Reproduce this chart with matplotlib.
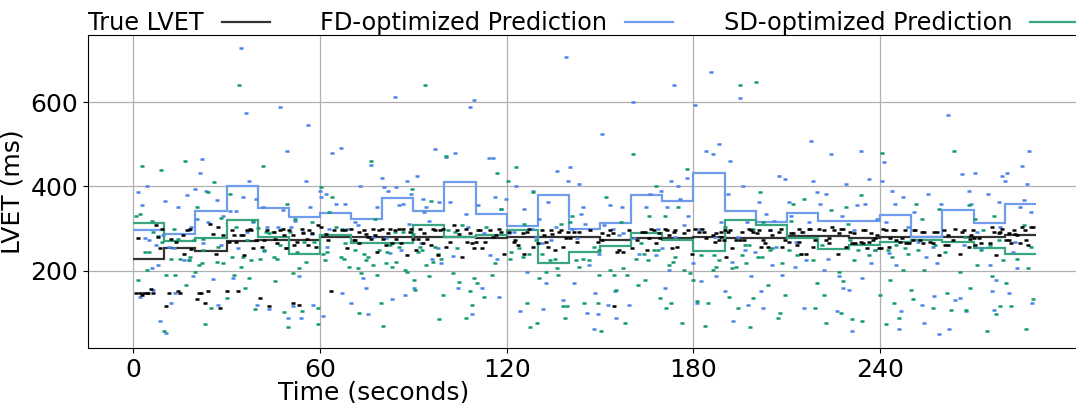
import numpy as np
import matplotlib
matplotlib.use("Agg")
import matplotlib.pyplot as plt
from matplotlib.lines import Line2D

# 10 s blocks, step values of each series
block_edges = np.arange(0, 300, 10)
true_blocks = [228, 255, 247, 270, 272, 272, 280, 281, 281, 279, 279, 278, 281, 279, 279,
               272, 277, 277, 281, 278, 277, 283, 283, 278, 280, 281, 281, 279, 284]
fd_blocks = [296, 288, 341, 402, 348, 327, 338, 322, 372, 342, 410, 334, 307, 379, 299,
             313, 379, 366, 431, 342, 315, 338, 319, 317, 332, 280, 345, 313, 359]
sd_blocks = [314, 271, 277, 320, 281, 241, 286, 265, 265, 308, 281, 285, 296, 219, 245,
             258, 290, 272, 247, 320, 308, 277, 252, 260, 268, 273, 268, 255, 240]

# beat-by-beat points (time s, LVET ms)
true_pts = [
    (7.4, 308), (9.4, 300), (8.1, 281), (12.2, 276), (15.9, 284), (17.2, 296), (18.3, 300), (24.7, 312),
    (25.6, 288), (1.6, 277), (8.7, 253), (18.5, 252), (16.5, 241), (13.7, 269),
    (0.8, 147), (2.2, 147), (2.9, 143), (3.6, 147), (4.4, 147), (4.9, 147), (5.8, 156), (6.5, 147),
    (11.5, 147), (14.4, 151), (14.9, 147), (21.2, 147), (21.8, 147), (24.0, 151),
    (10.7, 116), (20.5, 132), (23.2, 123),
    (30.3, 151), (33.7, 151), (28.0, 112), (40.8, 136), (43.5, 116), (51.3, 124), (53.3, 120), (63.5, 151),
    (27.4, 304), (29.0, 284), (31.7, 296), (32.4, 284), (34.5, 284), (35.2, 284), (36.5, 296), (37.5, 300),
    (38.0, 296), (39.5, 272), (42.1, 272), (43.1, 296), (45.1, 293), (47.2, 296), (48.0, 300), (48.6, 284),
    (50.1, 296), (51.2, 284), (52.6, 269), (54.1, 300), (54.7, 289), (56.6, 296), (57.4, 289), (59.5, 308),
    (60.3, 304), (61.8, 288), (62.7, 272), (64.4, 296), (26.5, 241), (30.9, 269), (33.1, 269), (35.6, 237),
    (38.6, 253), (41.5, 257), (45.7, 276), (46.3, 265), (49.2, 253), (51.8, 261), (55.7, 276), (56.1, 261),
    (58.9, 257),
    (67.2, 296), (68.2, 296), (69.9, 300), (70.8, 273), (71.4, 272), (72.7, 293), (74.2, 296), (74.8, 288),
    (75.6, 281), (76.3, 276), (77.0, 300), (77.8, 284), (79.0, 296), (80.1, 300), (80.4, 276), (81.9, 289),
    (82.5, 300), (83.2, 265), (84.1, 296), (84.6, 276), (85.3, 300), (86.0, 265), (86.8, 300), (88.8, 292),
    (89.4, 300), (90.0, 276), (90.8, 249), (91.5, 276), (92.2, 300), (93.1, 265), (93.6, 289), (94.5, 276),
    (95.6, 261), (96.4, 300), (97.0, 296), (97.8, 237), (98.5, 296), (99.4, 300), (100.4, 257), (101.7, 269),
    (103.2, 308), (104.0, 296), (104.6, 288), (105.5, 233), (68.6, 253), (72.7, 265), (78.4, 245), (81.1, 261),
    (88.1, 237),
    (106.8, 300), (108.1, 289), (110.7, 296), (111.4, 296), (110.1, 268), (112.1, 253), (112.9, 269),
    (114.8, 296), (115.7, 281), (116.7, 284), (117.6, 300), (118.2, 293), (119.0, 241), (120.9, 293),
    (122.3, 269), (122.8, 273), (123.7, 261), (125.1, 289), (125.7, 241), (126.5, 293), (127.1, 300),
    (128.4, 257), (130.1, 265), (131.2, 296), (131.9, 284), (132.6, 269), (133.3, 257), (134.1, 296),
    (134.7, 288), (135.5, 249), (136.7, 293), (137.4, 296), (138.0, 257), (138.9, 277), (139.6, 292),
    (140.2, 277), (141.5, 293), (142.6, 269), (143.2, 292), (107.4, 269), (108.8, 265), (109.4, 253),
    (146.9, 296), (149.2, 269), (150.5, 289), (150.6, 273), (152.6, 285), (153.3, 296), (154.0, 289),
    (154.6, 116), (155.4, 245), (156.2, 249), (157.3, 245), (159.4, 296), (160.2, 253), (161.8, 273),
    (163.5, 293), (164.3, 293), (165.2, 249), (165.8, 277), (166.4, 300), (167.4, 296), (168.1, 265),
    (168.8, 289), (169.3, 277), (170.9, 300), (171.6, 296), (172.3, 285), (173.0, 253), (173.6, 293),
    (174.2, 296), (174.7, 257), (177.0, 289), (178.4, 296), (179.4, 241), (180.6, 300), (181.9, 293),
    (182.6, 300), (183.5, 292), (183.9, 277),
    (186.2, 285), (187.4, 289), (188.9, 293), (190.1, 296), (191.0, 293), (191.7, 296), (195.7, 293),
    (197.8, 300), (198.6, 296), (199.2, 292), (200.5, 289), (201.1, 296), (204.6, 296), (205.2, 285),
    (207.4, 293), (208.0, 300), (211.3, 289), (212.0, 289), (214.0, 300), (214.9, 293), (217.0, 300),
    (217.6, 300), (220.3, 300), (222.0, 296), (223.4, 277), (224.6, 304), (186.8, 269), (188.3, 273),
    (189.0, 281), (189.8, 273), (193.7, 273), (194.9, 273), (196.3, 273), (190.3, 233), (192.3, 253),
    (201.8, 257), (202.4, 273), (203.1, 265), (204.0, 257), (208.6, 257), (209.3, 273), (210.8, 269),
    (213.3, 261), (214.0, 269), (214.7, 241), (216.2, 241), (218.4, 257), (219.2, 273), (222.6, 273),
    (223.7, 265),
    (225.2, 296), (227.3, 300), (228.2, 300), (230.2, 293), (231.6, 289), (234.5, 296), (235.1, 296),
    (237.0, 289), (239.1, 285), (241.0, 300), (241.9, 296), (244.0, 296), (244.7, 296), (247.9, 296),
    (250.7, 296), (251.2, 296), (253.3, 293), (254.1, 293), (257.3, 293), (258.1, 293), (260.4, 296),
    (261.7, 285), (263.9, 300), (226.8, 289), (231.0, 265), (231.9, 265), (233.9, 269), (235.7, 253),
    (236.4, 269), (237.7, 273), (238.3, 277), (239.5, 253), (240.3, 253), (242.8, 257), (245.1, 273),
    (247.0, 277), (248.2, 265), (249.4, 265), (250.5, 273), (252.9, 273), (253.7, 265), (256.0, 269),
    (256.8, 265), (259.0, 237), (260.9, 261), (261.9, 261), (263.4, 273), (226.3, 241), (229.0, 257),
    (234.5, 265), (243.2, 277), (246.2, 269),
    (266.4, 292), (267.0, 296), (269.7, 296), (269.1, 284), (271.7, 277), (275.8, 304), (276.6, 292),
    (278.6, 292), (279.2, 300), (278.0, 289), (281.3, 289), (282.9, 296), (283.4, 288), (284.1, 285),
    (285.7, 304), (286.4, 296), (288.3, 304), (289.1, 304), (268.7, 276), (270.2, 277), (272.5, 265),
    (275.2, 265), (282.1, 265), (285.0, 265), (286.8, 273), (287.6, 261), (265.5, 241), (268.5, 257),
    (270.6, 261), (277.3, 237), (280.5, 273), (281.4, 273),
]

fd_pts = [
    (22.1, 465), (21.4, 433), (4.5, 402), (1.6, 386), (3.0, 355), (10.1, 366), (14.5, 351), (17.2, 379),
    (19.9, 394), (23.5, 390), (24.2, 315), (18.5, 304), (17.8, 296), (20.6, 323), (3.8, 277), (5.2, 273),
    (7.3, 261), (9.5, 284), (11.6, 257), (13.0, 253), (16.5, 226), (17.9, 226), (22.6, 265), (8.0, 213),
    (5.9, 206), (19.1, 187), (25.5, 180), (6.5, 155), (2.2, 139), (13.6, 147), (12.2, 123), (8.7, 81),
    (10.7, 53),
    (34.8, 727), (36.1, 574), (47.3, 589), (56.2, 546), (49.3, 484), (63.8, 480), (37.3, 414), (55.4, 414),
    (35.3, 375), (39.4, 370), (41.7, 351), (48.0, 343), (56.7, 351), (60.0, 390), (61.8, 382), (60.4, 375),
    (65.1, 359), (26.9, 367), (28.9, 331), (31.0, 342), (33.1, 342), (38.6, 315), (43.1, 304), (46.4, 304),
    (52.0, 319), (50.8, 304), (57.5, 287), (54.7, 292), (36.7, 293), (28.2, 260), (33.8, 253), (42.2, 248),
    (62.9, 300), (62.3, 257), (53.3, 187), (32.1, 183), (27.4, 119), (39.9, 119), (43.5, 109), (51.2, 117),
    (57.8, 120), (60.9, 93), (49.7, 89), (53.9, 89),
    (84.0, 613), (66.7, 492), (97.1, 488), (103.3, 480), (100.6, 469), (76.3, 452), (79.8, 421), (91.2, 425),
    (88.1, 414), (72.8, 402), (80.5, 398), (84.6, 398), (81.9, 390), (89.4, 382), (93.0, 370), (68.0, 359),
    (86.6, 359), (85.3, 355), (78.5, 351), (94.2, 351), (93.6, 339), (98.4, 362), (101.9, 362), (94.9, 319),
    (88.7, 312), (71.4, 315), (72.1, 308), (68.8, 300), (81.3, 277), (76.9, 281), (86.0, 249), (82.4, 242),
    (92.4, 265), (97.8, 253), (96.0, 229), (99.0, 218), (102.6, 234), (74.0, 183), (74.7, 159), (69.9, 124),
    (67.1, 147), (83.0, 132), (87.3, 143), (90.2, 159), (75.5, 97), (104.4, 159),
    (139.1, 708), (109.6, 605), (108.3, 589), (114.3, 468), (115.7, 468), (140.3, 445), (136.2, 437),
    (139.6, 414), (143.2, 406), (123.0, 402), (128.5, 390), (116.2, 375), (119.7, 371), (133.4, 363),
    (144.6, 351), (110.8, 355), (118.3, 347), (125.5, 347), (106.8, 335), (143.8, 335), (130.5, 323),
    (135.7, 304), (107.5, 304), (145.1, 312), (140.9, 300), (128.0, 300), (129.3, 281), (112.8, 289),
    (120.7, 289), (122.2, 293), (131.2, 265), (134.1, 273), (142.5, 277), (114.8, 237), (116.8, 229),
    (126.4, 198), (132.6, 171), (141.7, 171), (112.1, 159), (117.5, 139), (138.0, 131), (108.7, 97),
    (124.2, 105), (131.8, 109),
    (173.7, 640), (160.5, 601), (180.6, 593), (150.6, 524), (184.0, 484), (177.8, 421), (172.9, 414),
    (174.9, 402), (169.5, 390), (166.0, 382), (175.7, 371), (153.2, 355), (157.0, 351), (164.6, 351),
    (171.5, 351), (178.4, 331), (177.0, 308), (151.2, 308), (154.0, 300), (157.5, 289), (156.2, 285),
    (168.6, 300), (181.8, 300), (174.2, 281), (170.0, 253), (160.8, 277), (149.8, 241), (162.4, 241),
    (168.0, 238), (146.6, 214), (172.1, 202), (179.8, 218), (182.4, 175), (170.7, 159), (148.5, 147),
    (154.7, 151), (152.5, 119), (159.4, 119), (181.0, 124), (145.8, 100), (149.2, 97), (155.2, 89),
    (147.9, 62),
    (185.6, 671), (195.1, 609), (217.7, 508), (188.3, 500), (186.3, 476), (224.1, 476), (191.7, 460),
    (207.4, 425), (209.4, 417), (195.8, 402), (218.5, 414), (191.0, 382), (219.8, 386), (222.7, 382),
    (201.1, 363), (210.7, 363), (220.5, 359), (203.2, 335), (211.4, 331), (206.0, 319), (189.0, 315),
    (197.1, 315), (217.0, 315), (215.1, 292), (194.4, 281), (204.6, 296), (186.9, 281), (206.5, 257),
    (196.4, 250), (199.9, 245), (213.1, 269), (216.2, 226), (192.3, 222), (205.2, 214), (212.7, 210),
    (221.8, 202), (223.2, 229), (187.4, 187), (198.4, 187), (208.6, 190), (190.1, 151), (201.8, 151),
    (197.6, 119), (202.4, 112), (215.5, 112), (192.8, 81),
    (261.7, 570), (233.8, 484), (241.3, 457), (236.4, 418), (240.5, 414), (229.1, 406), (243.9, 390),
    (247.4, 375), (255.5, 382), (232.4, 355), (235.0, 359), (244.6, 359), (259.5, 359), (250.8, 339),
    (227.6, 331), (241.8, 315), (248.8, 304), (231.7, 297), (239.1, 323), (238.3, 249), (242.7, 242),
    (252.2, 269), (256.8, 257), (254.8, 233), (258.2, 218), (237.0, 218), (245.2, 214), (226.8, 187),
    (228.1, 159), (234.3, 183), (230.1, 155), (257.4, 140), (253.3, 120), (264.1, 131), (246.6, 104),
    (226.1, 104), (254.0, 77), (230.9, 58), (245.9, 62), (258.8, 50), (262.1, 62),
    (287.8, 484), (285.7, 449), (266.3, 429), (270.4, 433), (280.8, 433), (279.2, 425), (280.1, 414),
    (287.1, 406), (268.5, 390), (274.5, 382), (286.3, 367), (278.0, 363), (269.1, 359), (284.8, 351),
    (288.3, 339), (278.6, 304), (271.1, 292), (283.3, 269), (266.9, 261), (272.5, 253), (282.8, 245),
    (275.2, 214), (284.1, 206), (277.3, 179), (265.5, 136), (275.8, 151), (281.3, 147), (288.9, 124),
    (276.6, 108), (267.6, 104),
]

sd_pts = [
    (3.0, 448), (8.8, 440), (16.6, 460), (26.0, 410), (20.6, 351), (24.1, 386), (2.3, 335), (0.9, 330),
    (5.9, 319), (6.5, 293), (13.0, 300), (8.0, 283), (9.4, 269), (14.4, 275), (19.4, 274), (22.6, 276),
    (22.6, 250), (3.8, 245), (5.2, 245), (12.2, 229), (15.0, 229), (18.4, 233), (17.8, 226), (21.3, 214),
    (22.0, 218), (4.4, 203), (1.5, 179), (10.7, 190), (13.6, 190), (17.1, 167), (19.8, 198), (25.0, 113),
    (23.2, 73), (10.0, 57),
    (34.0, 640), (41.6, 448), (60.3, 399), (31.1, 382), (49.3, 359), (63.8, 375), (63.0, 339), (28.2, 324),
    (33.2, 304), (38.4, 319), (40.2, 301), (42.8, 293), (44.8, 293), (43.7, 290), (52.0, 323), (57.4, 315),
    (50.5, 293), (54.9, 269), (58.1, 269), (65.2, 304), (36.6, 273), (42.2, 249), (47.1, 261), (49.0, 253),
    (52.6, 245), (61.0, 241), (62.4, 245), (27.4, 257), (31.7, 233), (35.2, 233), (37.9, 226), (40.8, 229),
    (45.1, 233), (46.3, 229), (55.6, 221), (26.9, 222), (28.9, 218), (34.5, 210), (61.7, 226), (53.3, 206),
    (51.3, 194), (45.7, 175), (37.2, 183), (35.8, 159), (30.2, 135), (32.3, 190), (48.5, 103), (39.3, 109),
    (59.3, 112), (54.1, 105), (59.4, 73), (49.8, 66),
    (93.8, 640), (76.3, 460), (100.5, 471), (89.5, 395), (95.7, 366), (77.7, 323), (67.2, 300), (84.1, 293),
    (86.6, 293), (89.9, 288), (101.2, 297), (103.3, 292), (105.5, 308), (68.1, 265), (71.4, 249), (74.2, 241),
    (78.9, 249), (81.7, 245), (82.4, 261), (85.3, 257), (91.4, 245), (92.2, 257), (92.8, 249), (97.0, 257),
    (97.8, 241), (99.0, 229), (103.9, 253), (66.7, 233), (67.9, 229), (75.6, 233), (74.8, 226), (77.0, 214),
    (81.2, 218), (83.2, 210), (84.6, 221), (87.4, 203), (88.0, 198), (94.2, 213), (96.3, 221), (69.3, 209),
    (72.3, 206), (73.3, 194), (78.4, 191), (90.2, 179), (90.7, 155), (94.9, 187), (102.6, 194), (99.7, 143),
    (104.6, 174), (79.6, 123), (72.7, 100), (80.3, 70), (98.3, 85),
    (123.0, 445), (117.0, 433), (120.5, 414), (128.5, 386), (118.3, 347), (141.0, 331), (113.4, 304),
    (125.7, 312), (137.5, 312), (140.3, 315), (129.3, 273), (121.5, 245), (123.9, 253), (127.1, 241),
    (131.3, 241), (125.1, 233), (116.1, 218), (121.0, 229), (134.0, 226), (135.4, 229), (143.1, 210),
    (142.4, 226), (144.5, 229), (136.1, 206), (132.6, 198), (115.4, 190), (109.4, 183), (110.6, 171),
    (130.5, 183), (136.6, 190), (108.1, 151), (112.7, 139), (108.7, 119), (126.4, 123), (138.0, 116),
    (139.4, 116), (145.0, 123), (106.8, 89), (138.8, 89), (129.7, 77), (127.6, 66),
    (160.5, 476), (177.8, 441), (168.1, 402), (151.9, 375), (175.0, 351), (165.8, 331), (170.9, 331),
    (156.8, 315), (147.9, 257), (149.8, 249), (161.6, 229), (163.1, 265), (164.0, 241), (165.3, 226),
    (167.3, 249), (168.7, 249), (174.2, 233), (173.4, 222), (172.1, 214), (182.5, 237), (146.6, 226),
    (153.2, 202), (157.5, 206), (177.0, 202), (179.0, 194), (179.7, 179), (149.8, 190), (154.6, 190),
    (158.8, 190), (164.5, 179), (162.3, 167), (155.2, 155), (169.3, 135), (172.7, 123), (171.3, 112),
    (149.2, 123), (158.1, 77), (176.2, 77), (150.4, 58), (181.0, 129), (183.8, 70), (184.6, 124),
    (195.1, 640), (200.1, 648), (201.3, 386), (215.6, 370), (212.1, 359), (224.1, 343), (211.3, 319),
    (202.5, 315), (190.2, 304), (199.2, 300), (196.4, 261), (197.8, 261), (205.2, 253), (210.7, 249),
    (204.6, 249), (214.7, 241), (213.4, 237), (221.2, 261), (186.6, 237), (195.7, 237), (200.6, 233),
    (201.9, 233), (188.2, 226), (186.2, 202), (187.4, 210), (192.3, 206), (193.8, 210), (196.9, 218),
    (208.6, 218), (218.3, 226), (219.7, 171), (203.8, 167), (191.5, 139), (199.0, 135), (209.3, 143),
    (221.8, 143), (194.2, 112), (207.8, 100), (219.0, 112), (207.1, 89), (198.3, 66), (222.5, 77),
    (240.5, 480), (263.6, 484), (233.7, 379), (251.4, 359), (229.0, 351), (258.9, 347), (253.4, 323),
    (229.5, 312), (230.2, 273), (233.0, 249), (245.1, 261), (248.0, 253), (248.8, 241), (231.6, 226),
    (236.3, 237), (243.9, 233), (247.4, 202), (254.1, 202), (260.9, 245), (226.8, 198), (228.2, 175),
    (243.2, 179), (250.0, 155), (250.6, 132), (244.5, 123), (256.8, 112), (261.6, 147), (262.8, 107),
    (239.8, 143), (227.4, 100), (234.3, 81), (230.9, 85), (245.9, 89), (241.7, 73), (238.4, 249),
    (242.5, 249), (252.2, 249), (257.5, 261),
    (268.5, 355), (276.6, 331), (270.5, 323), (286.3, 308), (273.1, 296), (267.1, 280), (278.0, 273),
    (275.2, 261), (272.5, 249), (288.3, 257), (284.1, 229), (279.3, 226), (271.1, 214), (287.6, 206),
    (265.5, 198), (275.8, 187), (280.5, 171), (269.0, 159), (289.0, 132), (278.6, 116), (281.9, 116),
    (267.6, 108), (277.2, 97), (274.4, 58), (286.8, 62),
]

labels = ["True LVET", "FD-optimized Prediction", "SD-optimized Prediction"]
line_colors = ["#333333", "#6f9ceb", "#3aa57f"]
dot_colors = ["#000000", "#4a86e8", "#139a6c"]

fig = plt.figure(figsize=(10.76, 4.03), dpi=100)
ax = fig.add_axes([88 / 1076, 55 / 403, 993 / 1076, 313 / 403])

for blocks, lab, lc in zip([true_blocks, fd_blocks, sd_blocks], labels, line_colors):
    ax.stairs(blocks, block_edges, baseline=None, color=lc, linewidth=1.6, label=lab, zorder=2)

for pts, dc in zip([fd_pts, sd_pts, true_pts], [dot_colors[1], dot_colors[2], dot_colors[0]]):
    t, v = zip(*pts)
    ax.plot(t, v, linestyle="none", marker="_", markersize=3, markeredgewidth=1.8,
            color=dc, zorder=3)

ax.set_xlim(-14.5, 304.5)
ax.set_ylim(17, 759)
ax.set_xticks([0, 60, 120, 180, 240])
ax.set_yticks([200, 400, 600])
ax.tick_params(labelsize=18)
ax.grid(True, color="#b0b0b0", linewidth=0.9)
ax.set_axisbelow(True)
ax.set_ylabel("LVET (ms)", fontsize=18)
ax.set_xlabel("Time (seconds)", fontsize=18)
ax.xaxis.set_label_coords(0.288, -0.103)

leg_handles = [Line2D([], [], color=c, linewidth=1.6) for c in line_colors]
ax.legend(leg_handles, labels, loc="lower left", bbox_to_anchor=(0.0, 1.0), ncol=3,
          frameon=False, markerfirst=False, fontsize=17.3, borderaxespad=0.0,
          borderpad=0.0, handlelength=2.0, handletextpad=0.75, columnspacing=2.1)

fig.savefig("out.png", dpi=100)
